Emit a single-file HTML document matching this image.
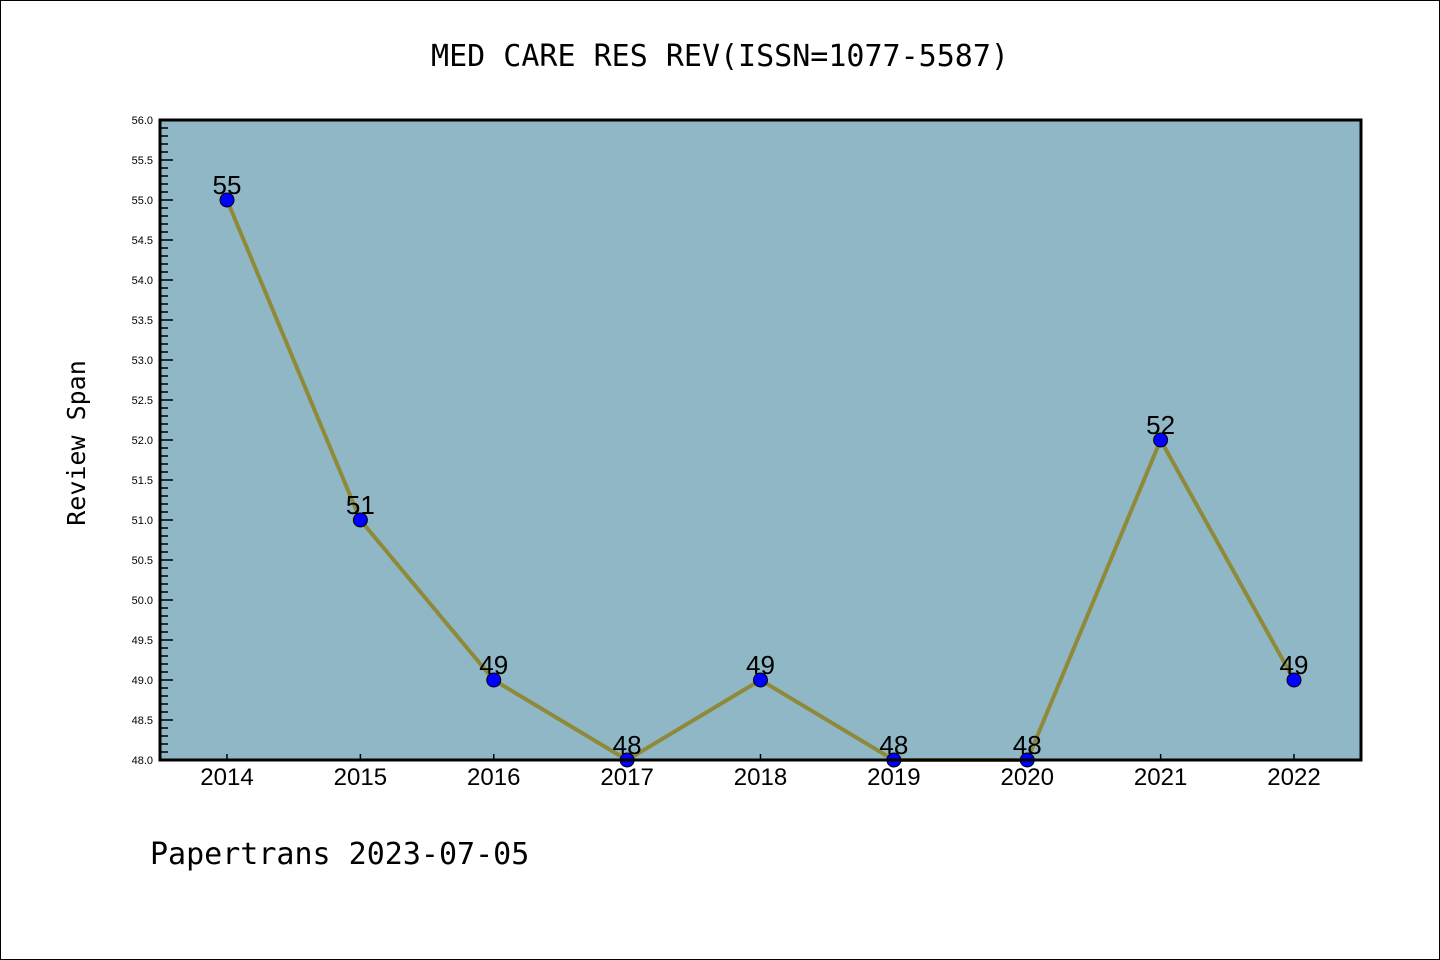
<!DOCTYPE html>
<html><head><meta charset="utf-8"><style>
body{margin:0;background:#fff;}
svg{display:block;font-family:"Liberation Sans","DejaVu Sans",sans-serif;}
</style></head><body>
<svg width="1440" height="960" id="c">
<rect x="0.5" y="0.5" width="1439" height="959" fill="#fff" stroke="#000"/>
<text x="720" y="66" text-anchor="middle" font-size="30" font-family="'DejaVu Sans Mono','Liberation Mono',monospace">MED CARE RES REV(ISSN=1077-5587)</text>
<rect x="160" y="120" width="1201" height="640" fill="#8fb7c5"/>
<g id="yt"></g><g id="xt"></g><g id="series"></g>
<rect x="160" y="120" width="1201" height="640" fill="none" stroke="#000" stroke-width="3"/>
<text transform="translate(85,443) rotate(-90)" text-anchor="middle" font-size="25" font-family="'DejaVu Sans Mono','Liberation Mono',monospace">Review Span</text>
<text x="150" y="864" font-size="30" font-family="'DejaVu Sans Mono','Liberation Mono',monospace">Papertrans 2023-07-05</text>
</svg>
<script>
const categories=["2014","2015","2016","2017","2018","2019","2020","2021","2022"];
const values=[55,51,49,48,49,48,48,52,49];
const yTicks=["48.0","48.5","49.0","49.5","50.0","50.5","51.0","51.5","52.0","52.5","53.0","53.5","54.0","54.5","55.0","55.5","56.0"];
const NS="http://www.w3.org/2000/svg";
const yMin=48,yMax=56,yTop=120,yBot=760;
const y=v=>yBot-(v-yMin)/(yMax-yMin)*(yBot-yTop);
const x=i=>227+i*(1294-227)/(categories.length-1);
function mk(t,a,p){const e=document.createElementNS(NS,t);for(const k in a)e.setAttribute(k,a[k]);p.appendChild(e);return e;}
const yt=document.getElementById('yt');
for(let k=0;k<=Math.round((yMax-yMin)*10);k++){
 const v=yMin+k/10;
 const major=k%5===0;
 const l=mk('line',{x1:160,x2:160+(major?13:8),y1:y(v),y2:y(v),stroke:'#000','stroke-width':1.5},yt);
 
 
}
yTicks.forEach(s=>{const t=mk('text',{x:153,y:y(parseFloat(s))+4,'text-anchor':'end','font-size':11},yt);t.textContent=s;
 
 });
const xt=document.getElementById('xt');
categories.forEach((c,i)=>{
 const l=mk('line',{x1:x(i),x2:x(i),y1:760,y2:754,stroke:'#000','stroke-width':1.5},xt);
 
 
 const t=mk('text',{x:x(i),y:785,'text-anchor':'middle','font-size':24},xt);t.textContent=c;
 
 
});
const s=document.getElementById('series');
const pl=mk('polyline',{points:values.map((v,i)=>x(i)+','+y(v)).join(' '),fill:'none',stroke:'#8f8a3a','stroke-width':4},s);


values.forEach((v,i)=>{
 const c=mk('circle',{cx:x(i),cy:y(v),r:7,fill:'#0000ff',stroke:'#000','stroke-width':1},s);
 
 
 const t=mk('text',{x:x(i),y:y(v)-6,'text-anchor':'middle','font-size':26},s);t.textContent=v;
 
 
});
</script>
</body></html>
